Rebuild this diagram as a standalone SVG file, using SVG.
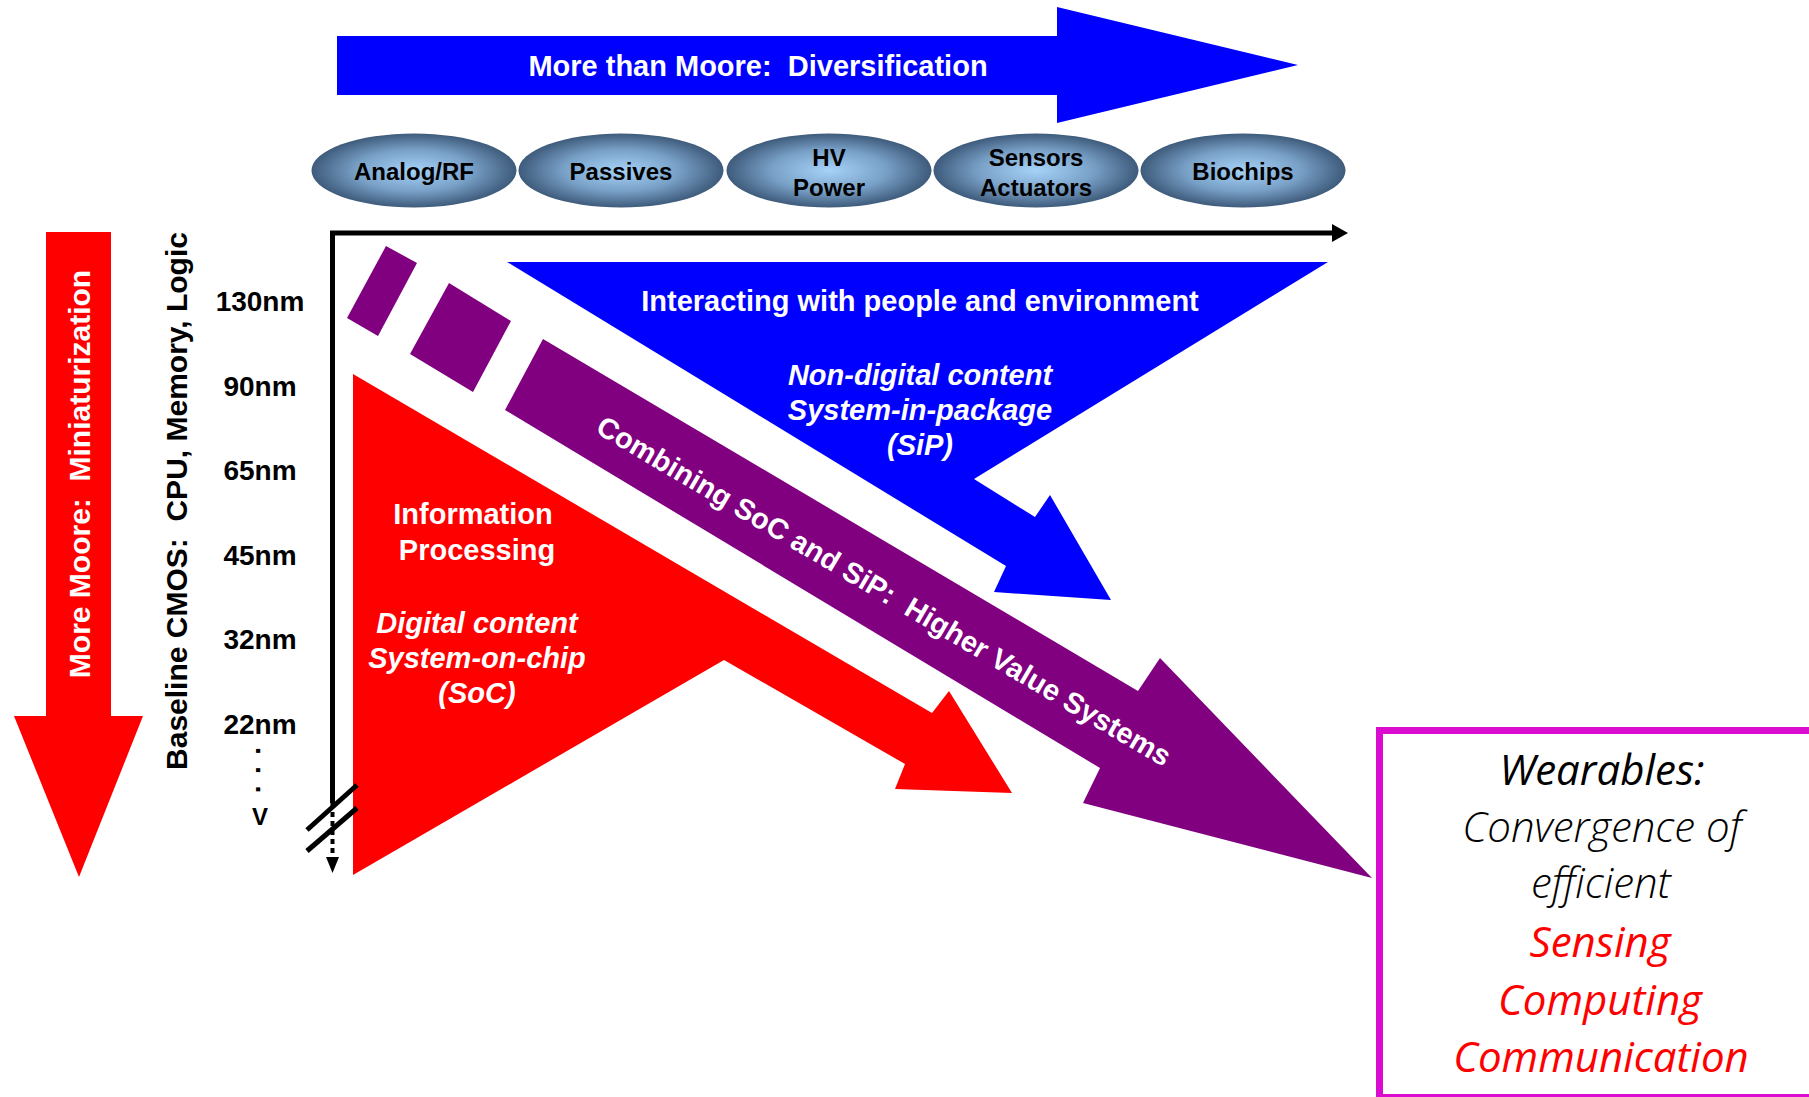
<svg xmlns="http://www.w3.org/2000/svg" width="1809" height="1097" viewBox="0 0 1809 1097">
<defs>
<radialGradient id="eg" cx="50%" cy="50%" r="50%">
<stop offset="0" stop-color="#a6d2f8"/>
<stop offset="0.55" stop-color="#7aa2c9"/>
<stop offset="1" stop-color="#3e5b7b"/>
</radialGradient>
<style>
.b{font-family:"Liberation Sans",Arial,sans-serif;font-weight:bold;}
.w{fill:#ffffff}
.k{fill:#000000}
.i{font-style:italic}
.f29{font-size:29px}
.f24{font-size:24px}
.f28{font-size:28px}
.el{fill:url(#eg)}
.ax{fill:none;stroke:#000;stroke-width:5}
.cal{font-family:"Open Sans","Noto Sans","Liberation Sans",sans-serif;font-style:italic;font-size:42px;text-anchor:middle}
</style>
</defs>
<rect width="1809" height="1097" fill="#ffffff"/>

<g id="more-than-moore">
<polygon points="337,36 1057,36 1057,7 1298,65 1057,123 1057,95 337,95" fill="#0000ff"/>
<text class="b w f29" x="758" y="76" text-anchor="middle" xml:space="preserve">More than Moore:  Diversification</text>
</g>

<g id="analog-rf"><ellipse class="el" cx="414" cy="170.5" rx="102.5" ry="37"/><text class="b k f24" x="414" y="179.5" text-anchor="middle">Analog/RF</text></g>
<g id="passives"><ellipse class="el" cx="621" cy="170.5" rx="102.5" ry="37"/><text class="b k f24" x="621" y="179.5" text-anchor="middle">Passives</text></g>
<g id="hv-power"><ellipse class="el" cx="829" cy="170.5" rx="102.5" ry="37"/><text class="b k f24" x="829" y="166" text-anchor="middle">HV</text><text class="b k f24" x="829" y="196" text-anchor="middle">Power</text></g>
<g id="sensors-actuators"><ellipse class="el" cx="1036" cy="170.5" rx="102.5" ry="37"/><text class="b k f24" x="1036" y="166" text-anchor="middle">Sensors</text><text class="b k f24" x="1036" y="196" text-anchor="middle">Actuators</text></g>
<g id="biochips"><ellipse class="el" cx="1243" cy="170.5" rx="102.5" ry="37"/><text class="b k f24" x="1243" y="179.5" text-anchor="middle">Biochips</text></g>

<g id="more-moore">
<polygon points="46,232 111,232 111,716 143,716 79,877 14,716 46,716" fill="#ff0000"/>
<text class="b w" font-size="30" transform="translate(90,474) rotate(-90)" text-anchor="middle" xml:space="preserve">More Moore:  Miniaturization</text>
</g>

<g id="baseline-cmos">
<text class="b k" font-size="30" transform="translate(187,501) rotate(-90)" text-anchor="middle" xml:space="preserve">Baseline CMOS:  CPU, Memory, Logic</text>
</g>

<g id="nodes-nm">
<text class="b k f28" x="260" y="311" text-anchor="middle">130nm</text>
<text class="b k f28" x="260" y="396" text-anchor="middle">90nm</text>
<text class="b k f28" x="260" y="480" text-anchor="middle">65nm</text>
<text class="b k f28" x="260" y="565" text-anchor="middle">45nm</text>
<text class="b k f28" x="260" y="649" text-anchor="middle">32nm</text>
<text class="b k f28" x="260" y="734" text-anchor="middle">22nm</text>
<text class="b k f28" transform="translate(256,747) rotate(90)" x="0" y="0" letter-spacing="11.5">...</text>
<text class="b k f24" x="260" y="825" text-anchor="middle">V</text>
</g>

<g id="sip">
<polygon points="507,262 1328,262 974,479 1035,517 1050,495 1111,600 994,592 1006,566" fill="#0000ff"/>
<text class="b w f29" x="920" y="311" text-anchor="middle">Interacting with people and environment</text>
<text class="b w f29 i" x="920" y="385" text-anchor="middle">Non-digital content</text>
<text class="b w f29 i" x="920" y="420" text-anchor="middle">System-in-package</text>
<text class="b w f29 i" x="920" y="455" text-anchor="middle">(SiP)</text>
</g>

<g id="soc">
<polygon points="353,374 932,713 949,691 1012,793 895,789 905,764 724,660 353,875" fill="#ff0000"/>
<text class="b w f29" x="473" y="524" text-anchor="middle">Information</text>
<text class="b w f29" x="477" y="560" text-anchor="middle">Processing</text>
<text class="b w f29 i" x="477" y="633" text-anchor="middle">Digital content</text>
<text class="b w f29 i" x="477" y="668" text-anchor="middle">System-on-chip</text>
<text class="b w f29 i" x="477" y="703" text-anchor="middle">(SoC)</text>
</g>

<g id="combining">
<polygon points="386,246 417,263 378,336 347,318" fill="#800080"/>
<polygon points="449,283 511,321 473,392 410,354" fill="#800080"/>
<polygon points="543,339 1138,691 1160,658 1372,878 1083,803 1100,768 505,410" fill="#800080"/>
<text class="b w f29" transform="translate(884,591) rotate(30.5)" x="0" y="10" text-anchor="middle" xml:space="preserve">Combining SoC and SiP:  Higher Value Systems</text>
</g>

<g id="connectors">
<path class="ax" d="M332.5,803 V233 H1333" stroke-linejoin="miter"/>
<polygon points="1332,224 1348,233 1332,242" fill="#000"/>
<line x1="332.5" y1="803" x2="332.5" y2="858" stroke="#000" stroke-width="4" stroke-dasharray="5,4"/>
<polygon points="326,857 339,857 332.5,873" fill="#000"/>
<line x1="307" y1="830" x2="357" y2="785" stroke="#000" stroke-width="5"/>
<line x1="307" y1="851" x2="357" y2="808" stroke="#000" stroke-width="5"/>
</g>

<g id="wearables">
<rect x="1379.5" y="730.5" width="460" height="367" fill="#ffffff" stroke="#d90ccf" stroke-width="7"/>
<text class="cal" x="1602" y="785" fill="#000">Wearables:</text>
<text class="cal" x="1602" y="842" fill="#000" font-weight="300">Convergence of</text>
<text class="cal" x="1601" y="898" fill="#000" font-weight="300">efficient</text>
<text class="cal" x="1600" y="957" fill="#ff0000">Sensing</text>
<text class="cal" x="1600" y="1015" fill="#ff0000">Computing</text>
<text class="cal" x="1601" y="1072" fill="#ff0000">Communication</text>
</g>
</svg>
